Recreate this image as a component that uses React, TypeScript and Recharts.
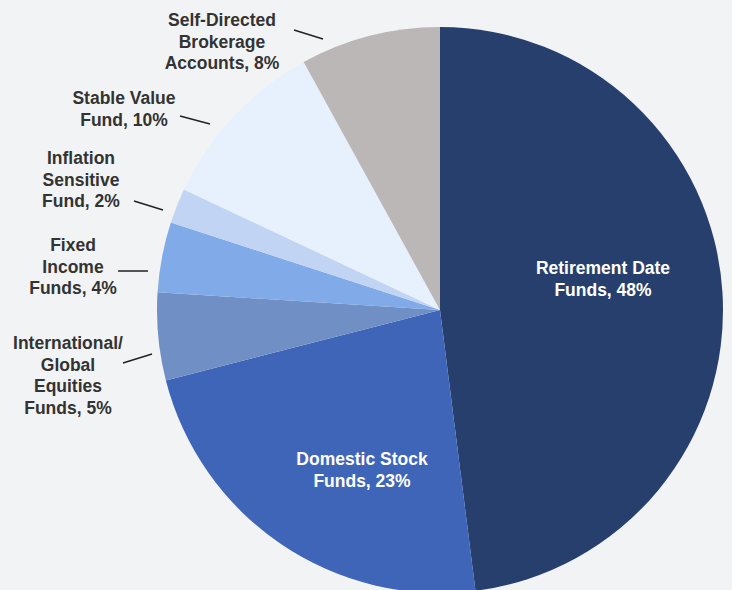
import { Cell, Pie, PieChart } from "recharts";

const NAMES = [
  "Retirement Date|Funds",
  "Domestic Stock|Funds",
  "International/|Global|Equities|Funds",
  "Fixed|Income|Funds",
  "Inflation|Sensitive|Fund",
  "Stable Value|Fund",
  "Self-Directed|Brokerage|Accounts",
];
const VALUES = [48, 23, 5, 4, 2, 10, 8];
const COLORS = ["#263f6c", "#3f65b9", "#6f8fc5", "#80abe8", "#c1d4f3", "#e7f0fd", "#bab7b6"];

// label placement (text centre x, first line centre y, leader line)
const LABEL_POS = [
  { x: 603, y: 268, fill: "#ffffff" },
  { x: 362, y: 459, fill: "#ffffff" },
  { x: 68, y: 343, fill: "#333333", line: [123, 363, 152, 354] },
  { x: 73, y: 245, fill: "#333333", line: [118, 271, 148, 271] },
  { x: 81, y: 158, fill: "#333333", line: [134, 201, 163, 210] },
  { x: 124, y: 98, fill: "#333333", line: [180, 116, 210, 124] },
  { x: 222, y: 20, fill: "#333333", line: [294, 30, 323, 39] },
];

const data = NAMES.map((name, i) => ({ name, value: VALUES[i] }));

function renderLabel({ index }: { index: number }) {
  const pos = LABEL_POS[index];
  const lines = NAMES[index].split("|");
  lines[lines.length - 1] += `, ${VALUES[index]}%`;
  return (
    <g key={`lbl-${index}`}>
      <text
        x={pos.x}
        y={pos.y + 6}
        textAnchor="middle"
        fill={pos.fill}
        fontSize={17.5}
        fontWeight="bold"
        fontFamily="'Liberation Sans', Arial, sans-serif"
      >
        {lines.map((l, j) => (
          <tspan key={j} x={pos.x} dy={j === 0 ? 0 : 21.5}>
            {l}
          </tspan>
        ))}
      </text>
      {pos.line && (
        <line
          x1={pos.line[0]}
          y1={pos.line[1]}
          x2={pos.line[2]}
          y2={pos.line[3]}
          stroke="#222222"
          strokeWidth={1.5}
        />
      )}
    </g>
  );
}

export default function App() {
  return (
    <div
      style={{
        position: "absolute",
        left: 0,
        top: 0,
        width: 732,
        height: 590,
        background: "#f2f3f5",
        overflow: "hidden",
      }}
    >
      <PieChart width={732} height={590} margin={{ top: 0, right: 0, bottom: 0, left: 0 }}>
        <Pie
          data={data}
          dataKey="value"
          cx={440}
          cy={310}
          outerRadius={283}
          startAngle={90}
          endAngle={-270}
          stroke="none"
          label={renderLabel}
          labelLine={false}
          isAnimationActive={false}
        >
          {data.map((d, i) => (
            <Cell key={d.name} fill={COLORS[i]} />
          ))}
        </Pie>
      </PieChart>
    </div>
  );
}
